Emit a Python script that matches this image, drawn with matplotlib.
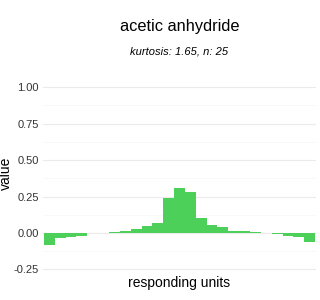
import numpy as np
import matplotlib.pyplot as plt

plt.rcParams['font.family'] = ['Liberation Sans', 'DejaVu Sans']

# values (25 bins)
bins = list(range(25))
values = [-0.083, -0.034, -0.028, -0.020, 0.0, 0.0, 0.007, 0.014, 0.028, 0.048,
          0.069, 0.241, 0.310, 0.283, 0.101, 0.055, 0.039, 0.012, 0.012, 0.005,
          0.0, -0.007, -0.020, -0.030, -0.062]
yticks = [-0.25, 0.0, 0.25, 0.5, 0.75, 1.0]
ytick_labels = ['-0.25', '0.00', '0.25', '0.50', '0.75', '1.00']
title = 'acetic anhydride'
subtitle = 'kurtosis: 1.65, n: 25'

fig = plt.figure(figsize=(3.2, 3.0), dpi=100)
ax = fig.add_axes([0.134, 0.0713, 0.854, 0.669])

ax.bar(bins, values, width=1.0, color='#4cd05a', linewidth=0, zorder=3)

ax.set_xlim(-0.6, 24.6)
ax.set_ylim(-0.3125, 1.0625)
ax.set_yticks(yticks)
ax.set_yticklabels(ytick_labels)
ax.set_yticks([-0.125, 0.125, 0.375, 0.625, 0.875], minor=True)
ax.set_xticks([])
ax.grid(axis='y', which='major', color='#ebebeb', linewidth=0.8, zorder=0)
ax.grid(axis='y', which='minor', color='#f5f5f5', linewidth=0.5, zorder=0)
for s in ax.spines.values():
    s.set_visible(False)
ax.tick_params(axis='y', which='both', length=0, labelsize=8, labelcolor='#333333', pad=3)

# axis titles placed as in the reference
fig.text(0.02, 0.423, 'value', rotation=90, ha='center', va='center', fontsize=10)
fig.text(0.561, 0.057, 'responding units', ha='center', va='center', fontsize=10)

fig.text(0.561, 0.91, title, ha='center', va='center', fontsize=11.8)
fig.text(0.561, 0.83, subtitle, ha='center', va='center', fontsize=8, style='italic')

fig.savefig('out.png', dpi=100)
